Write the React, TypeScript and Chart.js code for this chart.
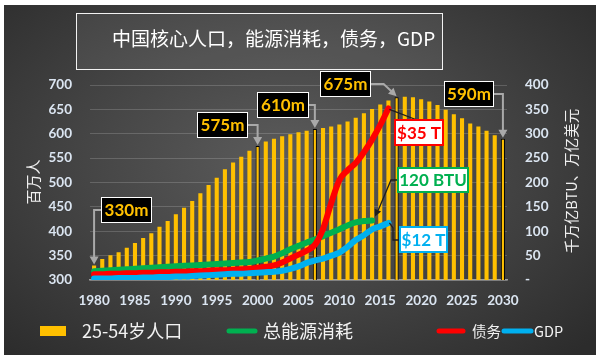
import React, { useEffect, useRef } from 'react';
import { Chart, registerables } from 'chart.js';

Chart.register(...registerables);

const years = [
  '1980', '1981', '1982', '1983', '1984', '1985', '1986', '1987', '1988', '1989',
  '1990', '1991', '1992', '1993', '1994', '1995', '1996', '1997', '1998', '1999',
  '2000', '2001', '2002', '2003', '2004', '2005', '2006', '2007', '2008', '2009',
  '2010', '2011', '2012', '2013', '2014', '2015', '2016', '2017', '2018', '2019',
  '2020', '2021', '2022', '2023', '2024', '2025', '2026', '2027', '2028', '2029',
  '2030',
];

// 25-54 population, millions (left axis)
const population = [
  330, 343, 351, 357, 366, 376, 386, 396, 409, 421,
  435, 448, 462, 478, 495, 510, 527, 541, 553, 565,
  575, 584, 590, 595, 599, 603, 606, 610, 612, 615,
  619, 625, 633, 642, 651, 660, 668, 675, 676, 675,
  671, 666, 659, 649, 640, 632, 621, 615, 606, 597,
  590,
];

// total energy consumption (right axis), 1980-2014
const energy = [
  18, 19, 20, 21, 22, 23, 24, 25, 26, 27,
  28, 29, 30, 31, 32, 33, 34, 35, 36, 37,
  40, 44, 48, 55, 63, 70, 77, 83, 90, 97,
  104, 112, 118, 121, 122,
];

// debt (right axis), 1980-2016
const debt = [
  12, 12, 13, 13, 14, 14, 15, 15, 16, 16,
  17, 17, 18, 18, 19, 20, 20, 21, 22, 23,
  25, 27, 30, 36, 44, 52, 60, 72, 105, 158,
  205, 225, 240, 262, 288, 318, 352,
];

// GDP (right axis), 1980-2016
const gdp = [
  3, 3, 3, 4, 4, 4, 5, 5, 6, 6,
  7, 7, 8, 9, 10, 11, 12, 13, 13, 14,
  15, 16, 17, 19, 23, 28, 35, 40, 44, 50,
  56, 68, 82, 92, 104, 110, 117,
];

const leftTicks = [300, 350, 400, 450, 500, 550, 600, 650, 700];
const rightTicks = [0, 50, 100, 150, 200, 250, 300, 350, 400];

const highlightYears = ['1980', '2000', '2007', '2017', '2030'];
const outlinedYears = ['2000', '2007', '2017', '2030'];

const titleText = '中国核心人口，能源消耗，债务，GDP';
const leftAxisTitle = '百万人';
const rightAxisTitle = '千万亿BTU、万亿美元';
const popLabel = '25-54岁人口';
const energyLabel = '总能源消耗';
const debtLabel = '债务';
const gdpLabel = 'GDP';
const debtCallout = '$35 T';
const energyCallout = '120 BTU';
const gdpCallout = '$12 T';

const GOLD = '#FFC000';
const GREEN = '#00B050';
const RED = '#FF0000';
const BLUE = '#00B0F0';
const TICK = '#dbe5f1';
const CJK = '"Noto Sans CJK SC", "Noto Sans", sans-serif';
const NUM = 'Lato, "Liberation Sans", sans-serif';

const popBoxes: Record<string, { box: number[]; side: string }> = {
  '1980': { box: [101, 197, 51, 26], side: 'left' },
  '2000': { box: [197, 112, 51, 26], side: 'right' },
  '2007': { box: [257, 92, 52, 26], side: 'right' },
  '2017': { box: [320, 71, 51, 26], side: 'diag' },
  '2030': { box: [444, 81, 50, 26], side: 'right' },
};

function arrowHead(ctx: CanvasRenderingContext2D, fx: number, fy: number, tx: number, ty: number, len: number, half: number, color: string) {
  const a = Math.atan2(ty - fy, tx - fx);
  const bx = tx - len * Math.cos(a);
  const by = ty - len * Math.sin(a);
  ctx.beginPath();
  ctx.moveTo(tx, ty);
  ctx.lineTo(bx + half * Math.sin(a), by - half * Math.cos(a));
  ctx.lineTo(bx - half * Math.sin(a), by + half * Math.cos(a));
  ctx.closePath();
  ctx.fillStyle = color;
  ctx.fill();
  return [bx, by];
}

const overlay = {
  id: 'overlay',
  afterDatasetsDraw(chart: any) {
    const ctx: CanvasRenderingContext2D = chart.ctx;
    ctx.save();
    const barMeta = chart.getDatasetMeta(0);
    // population callouts
    highlightYears.forEach((yr) => {
      const i = years.indexOf(yr);
      const el = barMeta.data[i];
      const cfg = popBoxes[yr];
      const [x, y, w, h] = cfg.box;
      const my = y + h / 2;
      const gray = '#a9a9a9';
      ctx.strokeStyle = gray;
      ctx.lineWidth = 2;
      const tipY = el.y - 1;
      if (cfg.side === 'diag') {
        const kx = el.x - 13;
        const [bx, by] = [kx + (el.x - kx) * 0.7, my + (tipY - my) * 0.7];
        ctx.beginPath();
        ctx.moveTo(x + w, my);
        ctx.lineTo(kx, my);
        ctx.lineTo(bx, by);
        ctx.stroke();
        arrowHead(ctx, kx, my, el.x, tipY, 8, 4, gray);
      } else {
        const sx = cfg.side === 'left' ? x : x + w;
        ctx.beginPath();
        ctx.moveTo(sx, my);
        ctx.lineTo(el.x, my);
        ctx.lineTo(el.x, tipY - 7);
        ctx.stroke();
        arrowHead(ctx, el.x, my, el.x, tipY, 8, 4.5, gray);
      }
      ctx.fillStyle = '#000';
      ctx.fillRect(x, y, w, h);
      ctx.strokeStyle = '#fff';
      ctx.lineWidth = 1;
      ctx.strokeRect(x + 0.5, y + 0.5, w - 1, h - 1);
      ctx.fillStyle = GOLD;
      ctx.font = `bold 17px ${NUM}`;
      ctx.textAlign = 'center';
      ctx.textBaseline = 'middle';
      ctx.fillText(`${population[i]}m`, x + w / 2, my + 1);
    });

    // series end callouts
    const endPt = (dsIndex: number, arr: number[]) => chart.getDatasetMeta(dsIndex).data[arr.length - 1];
    const dark = '#1e1e1e';
    ctx.strokeStyle = dark;
    ctx.lineWidth = 1.3;

    const dEnd = endPt(2, debt);
    ctx.beginPath();
    ctx.moveTo(dEnd.x + 1, dEnd.y + 1);
    ctx.lineTo(417, 120);
    ctx.stroke();

    const eEnd = endPt(1, energy);
    ctx.beginPath();
    ctx.moveTo(397, 180);
    ctx.lineTo(391, 180);
    ctx.lineTo(eEnd.x + 6, eEnd.y - 10);
    ctx.stroke();
    arrowHead(ctx, 391, 180, eEnd.x + 3, eEnd.y - 4, 7, 3.5, dark);

    const gEnd = endPt(3, gdp);
    ctx.beginPath();
    ctx.moveTo(399, 240);
    ctx.lineTo(393, 240);
    ctx.lineTo(393, gEnd.y + 5);
    ctx.lineTo(gEnd.x + 1, gEnd.y);
    ctx.stroke();

    const valueBox = (x: number, y: number, w: number, h: number, color: string, text: string) => {
      ctx.fillStyle = '#fff';
      ctx.fillRect(x, y, w, h);
      ctx.strokeStyle = color;
      ctx.lineWidth = 2;
      ctx.strokeRect(x + 1, y + 1, w - 2, h - 2);
      ctx.fillStyle = color;
      ctx.font = `bold 17px ${NUM}`;
      ctx.textAlign = 'center';
      ctx.textBaseline = 'middle';
      ctx.fillText(text, x + w / 2, y + h / 2 + 1);
    };
    valueBox(394, 119, 50, 27, RED, debtCallout);
    valueBox(397, 167, 72, 26, GREEN, energyCallout);
    valueBox(399, 226, 49, 27, BLUE, gdpCallout);
    ctx.restore();
  },
  afterDraw(chart: any) {
    const ctx: CanvasRenderingContext2D = chart.ctx;
    ctx.save();
    // title box
    ctx.fillStyle = 'rgba(255,255,255,0.07)';
    ctx.fillRect(76, 13, 366, 56);
    ctx.strokeStyle = '#f2f2f2';
    ctx.lineWidth = 1;
    ctx.strokeRect(76.5, 13.5, 366, 56);
    ctx.fillStyle = '#ffffff';
    ctx.font = `19px ${CJK}`;
    ctx.textAlign = 'left';
    ctx.textBaseline = 'middle';
    ctx.fillText(titleText, 112, 39);

    // axis titles
    ctx.fillStyle = '#f0f0f0';
    ctx.font = `15px ${CJK}`;
    ctx.textAlign = 'center';
    ctx.save();
    ctx.translate(33, 182);
    ctx.rotate(-Math.PI / 2);
    ctx.fillText(leftAxisTitle, 0, 0);
    ctx.restore();
    ctx.save();
    ctx.translate(571, 181);
    ctx.rotate(-Math.PI / 2);
    ctx.font = `14.5px ${CJK}`;
    ctx.fillText(rightAxisTitle, 0, 0);
    ctx.restore();

    // legend
    const ly = 331;
    ctx.fillStyle = GOLD;
    ctx.fillRect(40, ly - 5, 26, 10);
    ctx.fillStyle = '#f2f2f2';
    ctx.textAlign = 'left';
    ctx.textBaseline = 'middle';
    ctx.font = `18px ${CJK}`;
    ctx.fillText(popLabel, 82, ly);
    ctx.fillText(energyLabel, 263, ly);
    ctx.font = `14.5px ${CJK}`;
    ctx.fillText(debtLabel, 472, ly);
    ctx.fillText(gdpLabel, 534, ly);
    ctx.lineWidth = 5;
    ctx.lineCap = 'round';
    const seg = (x1: number, x2: number, c: string) => {
      ctx.strokeStyle = c;
      ctx.beginPath();
      ctx.moveTo(x1, ly);
      ctx.lineTo(x2, ly);
      ctx.stroke();
    };
    seg(229, 255, GREEN);
    seg(439, 463, RED);
    seg(504, 531, BLUE);
    ctx.restore();
  },
};

export default function App() {
  const ref = useRef<HTMLCanvasElement>(null);
  useEffect(() => {
    const lineBase = {
      type: 'line' as const,
      yAxisID: 'y1',
      borderWidth: 6,
      pointRadius: 0,
      tension: 0.4,
      cubicInterpolationMode: 'monotone' as const,
      borderCapStyle: 'round' as const,
      borderJoinStyle: 'round' as const,
      fill: false,
    };
    const chart = new Chart(ref.current!, {
      type: 'bar',
      data: {
        labels: years,
        datasets: [
          {
            type: 'bar',
            label: popLabel,
            data: population,
            yAxisID: 'y',
            backgroundColor: GOLD,
            borderColor: '#000',
            borderWidth: years.map((y) => (outlinedYears.includes(y) ? 1 : 0)),
            barPercentage: 0.5,
            categoryPercentage: 1,
            order: 4,
          } as any,
          { ...lineBase, label: energyLabel, data: energy, borderColor: GREEN, order: 3 },
          { ...lineBase, label: debtLabel, data: debt, borderColor: RED, order: 2 },
          { ...lineBase, label: gdpLabel, data: gdp, borderColor: BLUE, order: 1 },
        ],
      },
      options: {
        responsive: false,
        animation: false,
        devicePixelRatio: 1,
        layout: { padding: { top: 85, bottom: 45, left: 0, right: 0 } },
        plugins: { legend: { display: false }, title: { display: false }, tooltip: { enabled: false } },
        scales: {
          x: {
            grid: { display: false, drawTicks: false },
            border: { display: true, color: '#a0a0a0', width: 1.5 },
            ticks: {
              autoSkip: false,
              maxRotation: 0,
              minRotation: 0,
              padding: 13,
              color: TICK,
              font: { family: NUM, weight: 'bold', size: 13.5 },
              callback: (_v: any, i: number) => (Number(years[i]) % 5 === 0 ? years[i] : ''),
            },
            afterFit: (s: any) => { s.height = 38; },
          },
          y: {
            position: 'left',
            min: leftTicks[0],
            max: leftTicks[leftTicks.length - 1],
            ticks: {
              stepSize: leftTicks[1] - leftTicks[0],
              padding: 18,
              color: TICK,
              font: { family: NUM, weight: 'bold', size: 13.5 },
            },
            grid: { color: 'rgba(255,255,255,0.17)', drawTicks: false, lineWidth: 1 },
            border: { display: false },
            afterFit: (s: any) => { s.width = 90; },
          },
          y1: {
            position: 'right',
            min: rightTicks[0],
            max: rightTicks[rightTicks.length - 1],
            ticks: {
              stepSize: rightTicks[1] - rightTicks[0],
              padding: 18,
              color: TICK,
              font: { family: NUM, weight: 'bold', size: 13.5 },
              callback: (v: any) => (Number(v) === 0 ? '-' : String(v)),
            },
            grid: { display: false, drawTicks: false },
            border: { display: false },
            afterFit: (s: any) => { s.width = 95; },
          },
        },
      } as any,
      plugins: [overlay],
    });
    return () => chart.destroy();
  }, []);

  return (
    <div style={{ position: 'fixed', left: 0, top: 0, width: 602, height: 363, background: '#ffffff', overflow: 'hidden' }}>
      <div
        style={{
          position: 'absolute',
          left: 4,
          top: 5,
          width: 592,
          height: 350,
          background: 'radial-gradient(ellipse 70% 75% at 48% 45%, #5c5c5c 0%, #474747 45%, #2c2c2c 100%)',
        }}
      />
      <canvas ref={ref} width={602} height={363} style={{ position: 'absolute', left: 0, top: 0, width: 602, height: 363 }} />
    </div>
  );
}
